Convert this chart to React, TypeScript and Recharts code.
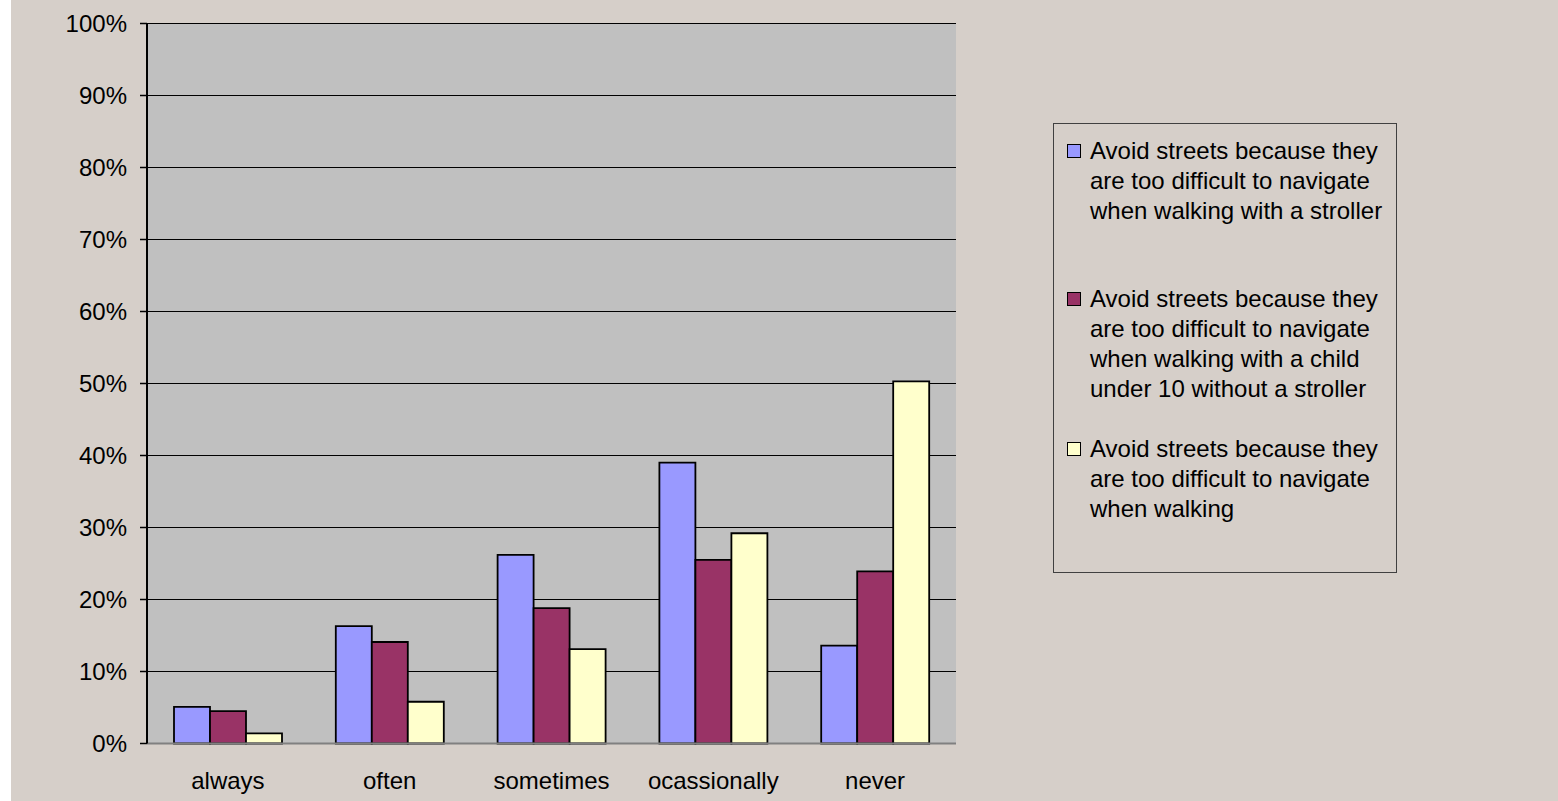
import React from "react";
import {
  BarChart,
  Bar,
  XAxis,
  YAxis,
  CartesianGrid,
  Legend,
} from "recharts";

const categories = ["always", "often", "sometimes", "ocassionally", "never"];

const stroller = [5.1, 16.3, 26.2, 39.0, 13.6];
const childNoStroller = [4.5, 14.1, 18.8, 25.5, 23.9];
const walking = [1.4, 5.8, 13.1, 29.2, 50.3];

const yTicks = [0, 10, 20, 30, 40, 50, 60, 70, 80, 90, 100];

const legendLines = [
  [
    "Avoid streets because they",
    "are too difficult to navigate",
    "when walking with a stroller",
  ],
  [
    "Avoid streets because they",
    "are too difficult to navigate",
    "when walking with a child",
    "under 10 without a stroller",
  ],
  [
    "Avoid streets because they",
    "are too difficult to navigate",
    "when walking",
  ],
];

const COLORS = ["#9999FF", "#993366", "#FFFFCC"];
const FONT = '"Liberation Sans", Arial, sans-serif';

const chartData = categories.map((name, i) => ({
  name,
  s0: stroller[i],
  s1: childNoStroller[i],
  s2: walking[i],
}));

// top offsets of each legend entry inside the box
const itemTops = [12, 160, 310];

function LegendBox() {
  return (
    <div
      style={{
        width: 342,
        height: 448,
        border: "1px solid #404040",
        position: "relative",
        fontFamily: FONT,
        fontSize: 24,
        color: "#000",
      }}
    >
      {legendLines.map((lines, i) => (
        <div
          key={i}
          style={{ position: "absolute", left: 0, top: itemTops[i], width: 342 }}
        >
          <div
            style={{
              position: "absolute",
              left: 13,
              top: 8,
              width: 12,
              height: 12,
              background: COLORS[i],
              border: "1.5px solid #000",
            }}
          />
          <div style={{ position: "absolute", left: 36, top: 0, lineHeight: "30px", whiteSpace: "nowrap" }}>
            {lines.map((l, j) => (
              <div key={j}>{l}</div>
            ))}
          </div>
        </div>
      ))}
    </div>
  );
}

export default function App() {
  return (
    <div
      style={{
        position: "absolute",
        left: 11,
        top: 0,
        width: 1547,
        height: 801,
        background: "#D6CFC9",
      }}
    >
      <BarChart
        width={1547}
        height={801}
        data={chartData}
        margin={{ top: 23.5, right: 602, bottom: 0, left: 0 }}
        barCategoryGap={27}
        barGap={0}
      >
        <CartesianGrid
          vertical={false}
          stroke="#000"
          strokeWidth={1}
          fill="#C0C0C0"
          fillOpacity={1}
        />
        <XAxis
          dataKey="name"
          height={57.5}
          tickLine={false}
          tickSize={0}
          tickMargin={28}
          axisLine={{ stroke: "#808080", strokeWidth: 2 }}
          tick={{ fill: "#000", fontSize: 24, fontFamily: FONT }}
        />
        <XAxis
          xAxisId="top"
          orientation="top"
          dataKey="name"
          height={0}
          tick={false}
          tickLine={false}
          axisLine={{ stroke: "#808080", strokeWidth: 2 }}
        />
        <YAxis
          width={136}
          domain={[0, 100]}
          ticks={yTicks}
          interval={0}
          tickFormatter={(v) => `${v}%`}
          tickSize={7}
          tickMargin={13}
          tickLine={{ stroke: "#000", strokeWidth: 1.5 }}
          axisLine={{ stroke: "#000", strokeWidth: 2 }}
          tick={{ fill: "#000", fontSize: 24, fontFamily: FONT }}
        />
        <YAxis
          yAxisId="right"
          orientation="right"
          width={0}
          domain={[0, 100]}
          tick={false}
          tickLine={false}
          axisLine={{ stroke: "#808080", strokeWidth: 2 }}
        />
        <Bar dataKey="s0" name={legendLines[0].join(" ")} fill={COLORS[0]} stroke="#000" strokeWidth={1.8} isAnimationActive={false} />
        <Bar dataKey="s1" name={legendLines[1].join(" ")} fill={COLORS[1]} stroke="#000" strokeWidth={1.8} isAnimationActive={false} />
        <Bar dataKey="s2" name={legendLines[2].join(" ")} fill={COLORS[2]} stroke="#000" strokeWidth={1.8} isAnimationActive={false} />
        <Legend
          layout="horizontal"
          verticalAlign="middle"
          align="center"
          wrapperStyle={{ left: 1042, top: 123, width: 344, height: 450 }}
          content={() => <LegendBox />}
        />
      </BarChart>
    </div>
  );
}
